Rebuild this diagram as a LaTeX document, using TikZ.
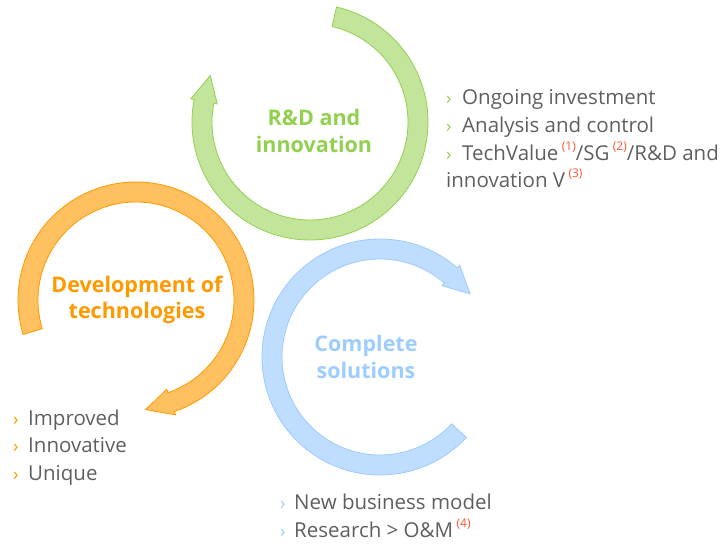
\documentclass[tikz,border=0pt]{standalone}
\usepackage{fontspec}
\setmainfont{Open Sans}
\definecolor{gfill}{RGB}{195,228,155}
\definecolor{gline}{RGB}{146,208,80}
\definecolor{ofill}{RGB}{255,192,96}
\definecolor{oline}{RGB}{255,153,0}
\definecolor{bfill}{RGB}{191,222,255}
\definecolor{bline}{RGB}{157,202,255}
\definecolor{btext}{RGB}{157,204,255}
\definecolor{bodygray}{RGB}{95,95,95}
\definecolor{refred}{RGB}{255,85,50}
\newcommand\refnum[1]{\raisebox{0.5em}{\fontsize{12}{12}\selectfont\color{refred}(#1)}}
\tikzset{
  ringG/.style={fill=gfill,draw=gline,line width=0.8pt,line join=miter},
  ringO/.style={fill=ofill,draw=oline,line width=0.8pt,line join=miter},
  ringB/.style={fill=bfill,draw=bline,line width=0.8pt,line join=miter},
  head/.style={anchor=base,inner sep=0pt,font=\bfseries\fontsize{21.5}{24}\selectfont},
  item/.style={anchor=base west,inner sep=0pt,text=bodygray,font=\fontsize{20.5}{24}\selectfont},
  bul/.style={anchor=base west,inner sep=0pt,font=\fontsize{18}{20}\selectfont}
}
\begin{document}
\begin{tikzpicture}[x=1pt,y=1pt]
\useasboundingbox (0,0) rectangle (723,546);
% green ring
\begin{scope}[shift={(310,424)}]
\draw[ringG] (77:118) arc[start angle=77,end angle=-191,radius=118]
  -- (-191:121.5) -- (-205:110) -- (-191:94.5) -- (-191:98)
  arc[start angle=-191,end angle=77,radius=98] -- cycle;
\end{scope}
% orange ring
\begin{scope}[shift={(136,246)}]
\draw[ringO] (197:118) arc[start angle=197,end angle=-71,radius=118]
  -- (-71:121.5) -- (-85:110) -- (-71:94.5) -- (-71:98)
  arc[start angle=-71,end angle=197,radius=98] -- cycle;
\end{scope}
% blue ring
\begin{scope}[shift={(380,189)}]
\draw[ringB] (-43:118) arc[start angle=-43,end angle=-311,radius=118]
  -- (-311:121.5) -- (-325:110) -- (-311:94.5) -- (-311:98)
  arc[start angle=-311,end angle=-43,radius=98] -- cycle;
\end{scope}
% headings
\node[head,text=gline] (g1) at (314,420) {R\&D and};
\node[head,text=gline] (g2) at (314,393) {innovation};
\node[head,text=oline] (o1) at (137,253) {Development of};
\node[head,text=oline] (o2) at (137,227) {technologies};
\node[head,text=btext] (b1) at (366,194) {Complete};
\node[head,text=btext] (b2) at (366,167) {solutions};
% right list
\node[bul,text=gline] (rb1) at (446,441) {›};
\node[item] (r1) at (462,441) {Ongoing investment};
\node[bul,text=gline] (rb2) at (446,413) {›};
\node[item] (r2) at (462,413) {Analysis and control};
\node[bul,text=gline] (rb3) at (446,385) {›};
\node[item] (r3) at (462,385) {TechValue\,\refnum{1}/SG\,\refnum{2}/R\&D and};
\node[item] (r4) at (446,358) {innovation V\,\refnum{3}};
% left list
\node[bul,text=oline] (lb1) at (13,120) {›};
\node[item] (l1) at (28,120) {Improved};
\node[bul,text=oline] (lb2) at (13,93) {›};
\node[item] (l2) at (28,93) {Innovative};
\node[bul,text=oline] (lb3) at (13,65) {›};
\node[item] (l3) at (28,65) {Unique};
% bottom list
\node[bul,text=btext] (bb1) at (280,36) {›};
\node[item] (m1) at (294,36) {New business model};
\node[bul,text=btext] (bb2) at (280,8) {›};
\node[item] (m2) at (294,8) {Research > O\&M\,\refnum{4}};
\end{tikzpicture}
\end{document}
